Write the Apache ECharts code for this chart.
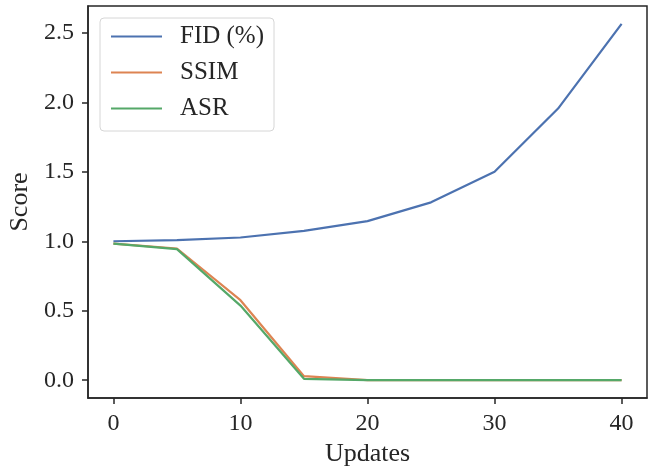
<!DOCTYPE html>
<html>
<head>
<meta charset="utf-8">
<script src="https://cdn.jsdelivr.net/npm/echarts@6/dist/echarts.min.js"></script>
<style>html,body{margin:0;padding:0;background:#fff}#c{width:653px;height:466px}</style>
</head>
<body>
<div id="c"></div>
<script>
const updates = [0, 5, 10, 15, 20, 25, 30, 35, 40];
const fid = [1.0, 1.008, 1.027, 1.075, 1.145, 1.28, 1.50, 1.955, 2.565];
const ssim = [0.983, 0.948, 0.576, 0.029, 0.0, 0.0, 0.0, 0.0, 0.0];
const asr = [0.983, 0.943, 0.537, 0.01, 0.0, 0.0, 0.0, 0.0, 0.0];
const xTicks = [0, 10, 20, 30, 40];
const yTicks = [0, 0.5, 1.0, 1.5, 2.0, 2.5];
const seriesNames = ['FID (%)', 'SSIM', 'ASR'];
const colors = ['#4C72B0', '#DD8452', '#55A868'];

const FONT = '"Liberation Serif", "Times New Roman", serif';
const AX = '#262626';
const chart = echarts.init(document.getElementById('c'));
const pair = arr => updates.map((u, i) => [u, arr[i]]);
const dataSets = [fid, ssim, asr];
chart.setOption({
  animation: false,
  backgroundColor: '#fff',
  textStyle: { fontFamily: FONT },
  grid: { left: 88, right: 6, top: 6, bottom: 68, containLabel: false, outerBoundsMode: 'none',
    show: true, borderColor: AX, borderWidth: 1.5, backgroundColor: 'transparent' },
  xAxis: {
    type: 'value', min: -2, max: 42,
    name: 'Updates', nameLocation: 'middle', nameGap: 34,
    nameTextStyle: { fontFamily: FONT, fontSize: 26, color: AX },
    axisLine: { show: true, onZero: false, lineStyle: { color: AX, width: 1.5 } },
    axisTick: { show: true, length: 6, customValues: xTicks, lineStyle: { color: AX, width: 1.5 } },
    axisLabel: { customValues: xTicks, fontFamily: FONT, fontSize: 24, color: AX, margin: 14 },
    splitLine: { show: false }
  },
  yAxis: {
    type: 'value', min: -0.128, max: 2.693,
    name: 'Score', nameLocation: 'middle', nameGap: 50,
    nameTextStyle: { fontFamily: FONT, fontSize: 26, color: AX },
    axisLine: { show: true, onZero: false, lineStyle: { color: AX, width: 1.5 } },
    axisTick: { show: true, length: 6, customValues: yTicks, lineStyle: { color: AX, width: 1.5 } },
    axisLabel: { customValues: yTicks, fontFamily: FONT, fontSize: 24, color: AX, margin: 14,
      formatter: v => v.toFixed(1) },
    splitLine: { show: false }
  },
  legend: {
    orient: 'vertical', left: 100, top: 18,
    data: seriesNames,
    itemWidth: 51, itemHeight: 26, itemGap: 11,
    padding: [6, 10, 10, 10],
    backgroundColor: '#fff', borderColor: '#d6d6d6', borderWidth: 1, borderRadius: 4,
    textStyle: { fontFamily: FONT, fontSize: 25, color: AX, padding: [0, 0, 0, 13] },
    itemStyle: { opacity: 0 }
  },
  series: seriesNames.map((n, i) => ({
    name: n, type: 'line', data: pair(dataSets[i]),
    symbol: 'none', color: colors[i],
    lineStyle: { color: colors[i], width: 2.2 }
  }))
});
</script>
</body>
</html>
